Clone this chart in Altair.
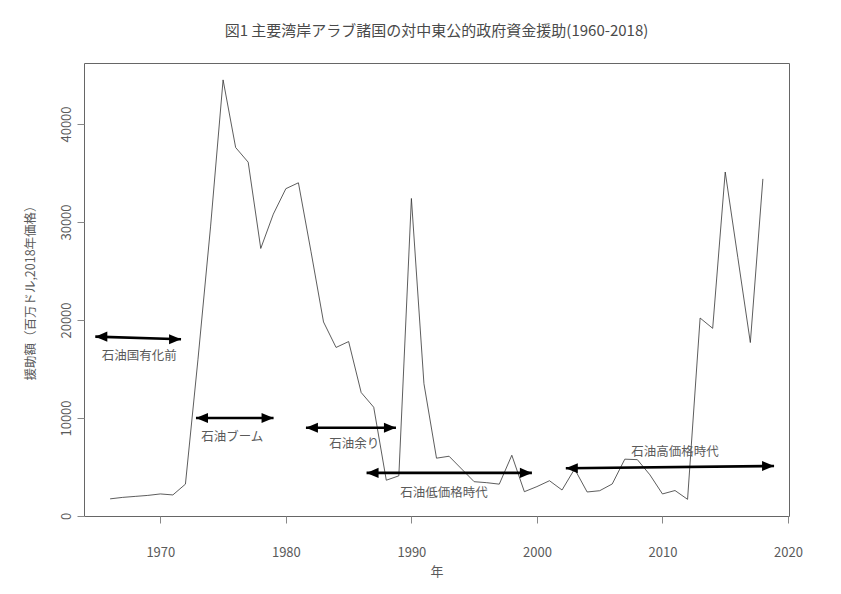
import altair as alt
import pandas as pd

# ---- data ----
years = list(range(1966, 2019))
aid = [1750, 1900, 2000, 2100, 2250, 2150, 3250, 16000, 29500, 44500,
       37600, 36100, 27300, 30800, 33400, 34000, 27000, 19800, 17200, 17800,
       12600, 11100, 3650, 4100, 32400, 13500, 5900, 6100, 4800, 3500,
       3400, 3250, 6200, 2480, 3000, 3600, 2650, 4800, 2450, 2580,
       3270, 5800, 5750, 4200, 2250, 2600, 1700, 20200, 19150, 35100,
       26400, 17700, 34400]

arrow_x1 = [1964.82, 1972.84, 1981.6, 1986.43, 2002.3]
arrow_x2 = [1971.65, 1979.02, 1988.77, 1999.6, 2018.89]
arrow_y1 = [18300, 10000, 9000, 4400, 4870]
arrow_y2 = [18030, 10000, 9000, 4400, 5100]

label_text = ["石油国有化前", "石油ブーム", "石油余り", "石油低価格時代", "石油高価格時代"]
label_x = [1968.33, 1975.73, 1985.45, 1992.6, 2011.0]
label_y = [16360, 8060, 7350, 2350, 6530]

x_ticks = [1970, 1980, 1990, 2000, 2010, 2020]
y_ticks = [0, 10000, 20000, 30000, 40000]

FONT = "Noto Sans CJK JP"
TXT = "#5a5a5a"

line_df = pd.DataFrame({"year": years, "aid": aid})
arr_df = pd.DataFrame({"x1": arrow_x1, "x2": arrow_x2, "y1": arrow_y1, "y2": arrow_y2})
lab_df = pd.DataFrame({"t": label_text, "x": label_x, "y": label_y})

xscale = alt.Scale(domain=[1963.92, 2020.08], nice=False, zero=False)
yscale = alt.Scale(domain=[0, 46224], nice=False, zero=False)

xaxis = alt.Axis(values=x_ticks, format="d", title="年", grid=False, domain=False,
                 tickColor="#888888", tickSize=7, labelFontSize=13, labelColor=TXT,
                 labelFont=FONT, labelPadding=23, titleFont=FONT, titleFontSize=13,
                 titleColor=TXT, titleFontWeight="normal", titlePadding=6)
yaxis = alt.Axis(values=y_ticks, format="d", title="援助額（百万ドル,2018年価格）", grid=False,
                 domain=False, tickColor="#888888", tickSize=7, labelFontSize=13,
                 labelColor=TXT, labelFont=FONT, labelAngle=270, labelAlign="center",
                 labelBaseline="bottom", labelPadding=4, titleFont=FONT, titleFontSize=12.5,
                 titleColor=TXT, titleFontWeight="normal", titleX=-54, titleY=226.5,
                 titleAlign="center", titleBaseline="middle", titleAngle=270)

line = alt.Chart(line_df).mark_line(color="#333333", strokeWidth=0.8).encode(
    x=alt.X("year:Q", scale=xscale, axis=xaxis),
    y=alt.Y("aid:Q", scale=yscale, axis=yaxis),
)

rules = alt.Chart(arr_df).mark_rule(color="black", strokeWidth=2.6).encode(
    x=alt.X("x1:Q", scale=xscale), x2="x2:Q",
    y=alt.Y("y1:Q", scale=yscale), y2="y2:Q",
)

head_left = alt.Chart(arr_df).mark_point(
    shape="M0,0 L1,-0.42 L1,0.42 Z", filled=True, color="black", opacity=1, size=576
).encode(x=alt.X("x1:Q", scale=xscale), y=alt.Y("y1:Q", scale=yscale))

head_right = alt.Chart(arr_df).mark_point(
    shape="M0,0 L-1,-0.42 L-1,0.42 Z", filled=True, color="black", opacity=1, size=576
).encode(x=alt.X("x2:Q", scale=xscale), y=alt.Y("y2:Q", scale=yscale))

labels = alt.Chart(lab_df).mark_text(font=FONT, fontSize=12.5, color=TXT,
                                     align="center", baseline="middle").encode(
    x=alt.X("x:Q", scale=xscale), y=alt.Y("y:Q", scale=yscale), text="t:N")

chart = alt.layer(line, rules, head_left, head_right, labels).properties(
    width=705, height=453,
    autosize=alt.AutoSizeParams(type="none"),
    padding={"left": 76, "top": 55, "right": 44, "bottom": 70},
    title=alt.TitleParams("図1 主要湾岸アラブ諸国の対中東公的政府資金援助(1960-2018)",
                          font=FONT, fontSize=15, color="#4a4a4a", fontWeight="normal",
                          anchor="middle", offset=24),
).configure_view(stroke="#666666", strokeWidth=1)

chart.save("out.html", embed_options={"renderer": "svg", "actions": False})
